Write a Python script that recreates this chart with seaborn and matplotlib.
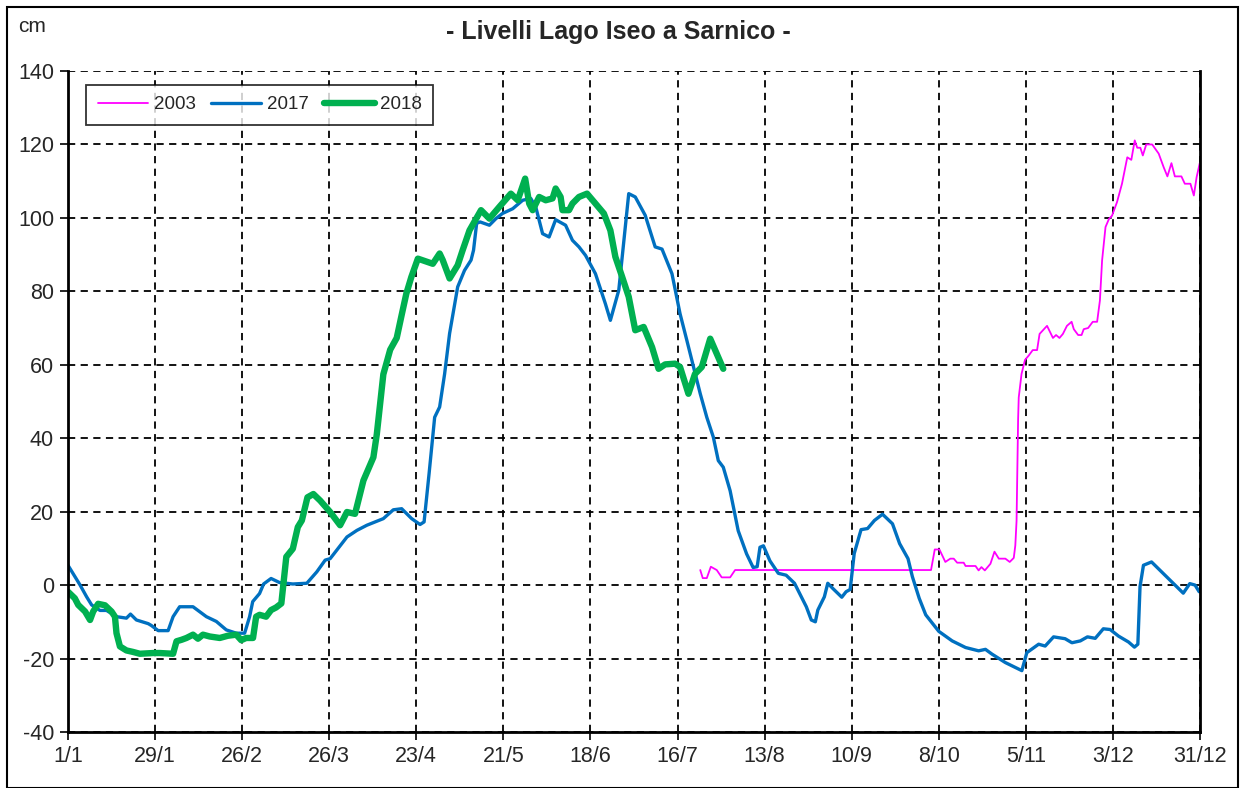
import matplotlib
matplotlib.use("Agg")
import matplotlib.pyplot as plt
from matplotlib.patches import Rectangle
import seaborn as sns

# day of year (0 = 1 Jan) and lake level in cm
days_2003 = [203.3, 204.1, 205.4, 206.7, 208.6, 210.2, 212.9, 214.5, 277.5, 278.7, 280.2,
             282.1, 283.7, 284.8, 285.9, 288.0, 288.6, 291.8, 292.8, 293.7, 294.8, 296.6,
             297.9, 299.3, 301.4, 302.8, 304.1, 304.6, 305.0, 305.5, 305.7, 306.6, 307.7,
             308.9, 310.2, 311.6, 312.4, 314.8, 316.7, 317.7, 318.8, 319.9, 321.2, 322.7,
             323.4, 324.8, 325.9, 326.6, 328.0, 329.5, 330.9, 331.8, 332.5, 333.6, 334.7,
             335.7, 337.3, 338.9, 340.6, 341.9, 343.0, 343.8, 344.8, 345.6, 346.7, 348.6,
             350.7, 352.3, 353.5, 354.8, 355.9, 358.0, 359.1, 360.9, 362.0, 362.9, 363.9]
level_2003 = [4.1, 1.9, 1.9, 5.0, 4.1, 2.1, 2.1, 4.1, 4.1, 9.7, 9.7,
              6.3, 7.2, 7.2, 6.1, 6.1, 5.2, 5.2, 4.0, 4.9, 4.0, 5.8,
              9.1, 7.2, 7.2, 6.3, 7.4, 10.8, 17.5, 45.2, 51.1, 57.5, 61.3,
              62.5, 64.0, 64.0, 68.4, 70.6, 67.3, 68.1, 67.3, 68.4, 70.6, 71.7,
              69.7, 68.1, 68.1, 69.7, 70.0, 71.7, 71.7, 77.5, 88.4, 97.5, 99.7,
              100.6, 104.3, 109.3, 116.5, 115.8, 121.1, 119.1, 119.1, 117.0, 120.0, 120.0,
              117.5, 113.8, 111.3, 114.9, 111.3, 111.3, 109.3, 109.3, 106.1, 111.1, 114.9]

days_2017 = [0.0, 3.9, 6.0, 7.6, 10.3, 12.4, 15.6, 18.8, 20.1, 22.0, 25.8, 26.8, 29.0,
             32.2, 33.8, 35.9, 40.2, 44.5, 47.7, 50.9, 54.1, 56.8, 58.4, 59.4, 61.6,
             62.9, 65.3, 68.0, 72.3, 76.8, 80.0, 82.7, 84.3, 89.7, 92.9, 96.1, 101.4,
             104.6, 107.3, 110.5, 113.2, 114.5, 116.1, 117.9, 119.5, 121.1, 122.7, 125.3,
             127.5, 129.6, 130.4, 131.4, 132.5, 135.5, 137.6, 139.7, 143.0, 146.2, 148.8,
             150.4, 152.6, 154.7, 156.8, 160.0, 162.2, 164.3, 166.4, 169.6, 172.8, 174.4,
             177.1, 180.3, 182.4, 185.6, 188.8, 191.0, 194.2, 196.8, 199.0, 201.7, 203.3,
             205.4, 207.5, 209.1, 210.7, 212.9, 215.5, 218.2, 220.3, 221.6, 222.5, 223.6,
             225.7, 228.4, 230.9, 233.6, 237.4, 239.0, 240.3, 241.1, 243.2, 244.3, 245.9,
             248.8, 250.2, 251.5, 252.8, 255.0, 257.1, 259.3, 261.9, 265.1, 267.4, 270.1,
             271.5, 273.7, 275.8, 280.0, 284.3, 288.6, 292.8, 295.0, 297.1, 301.4, 306.7,
             308.3, 312.1, 314.2, 316.9, 320.6, 322.8, 325.5, 327.8, 330.3, 332.9, 335.1,
             337.8, 341.0, 342.9, 344.0, 344.7, 345.8, 348.4, 352.7, 355.9, 358.6, 360.7,
             362.4, 363.7]
level_2017 = [5.4, 0.0, -3.2, -5.4, -6.9, -6.9, -8.6, -9.0, -7.9, -9.5, -10.5, -11.0, -12.4,
              -12.4, -8.6, -5.9, -5.9, -8.6, -9.9, -12.2, -13.1, -13.1, -8.6, -4.5, -2.3,
              0.3, 1.8, 0.7, 0.3, 0.5, 3.6, 6.8, 7.2, 13.1, 14.9, 16.3, 18.1,
              20.5, 20.8, 18.1, 16.5, 17.2, 30.3, 45.7, 48.5, 57.5, 68.5, 81.2,
              85.7, 88.5, 91.2, 98.5, 98.9, 98.0, 99.8, 101.2, 102.5, 104.8, 105.3,
              103.0, 95.7, 94.8, 99.5, 98.0, 93.9, 92.1, 89.8, 84.8, 76.6, 72.1,
              80.3, 106.6, 105.7, 100.7, 92.1, 91.5, 84.8, 73.9, 66.6, 57.5, 52.1,
              45.7, 40.3, 33.9, 32.1, 25.7, 14.8, 8.5, 4.8, 5.0, 10.3, 10.7,
              6.6, 3.2, 2.7, 0.5, -5.9, -9.5, -10.0, -6.8, -3.2, 0.5, -0.9,
              -3.3, -1.8, -1.2, 8.6, 15.1, 15.4, 17.6, 19.3, 16.7, 11.3, 7.2,
              2.3, -3.6, -8.1, -12.6, -15.2, -17.0, -17.9, -17.5, -18.8, -21.1, -23.3,
              -18.4, -16.1, -16.6, -14.1, -14.6, -15.7, -15.2, -14.1, -14.5, -11.9, -12.1,
              -13.9, -15.5, -16.9, -16.1, -0.4, 5.4, 6.3, 2.7, 0.0, -2.2, 0.4,
              0.0, -1.8]

days_2018 = [0.0, 2.2, 3.3, 5.5, 7.1, 8.1, 9.7, 11.9, 14.0, 15.1, 15.6, 16.7, 18.8,
             20.9, 23.1, 27.4, 29.5, 33.8, 34.9, 36.5, 38.1, 40.2, 41.8, 43.4, 45.6,
             48.8, 51.4, 54.1, 55.7, 57.3, 59.5, 60.5, 61.6, 63.7, 65.3, 66.9, 68.6,
             70.2, 72.3, 73.9, 75.2, 77.0, 78.9, 81.1, 84.3, 87.5, 89.7, 92.3, 95.0,
             98.2, 99.3, 101.4, 103.6, 105.7, 107.3, 108.8, 110.4, 112.5, 117.3, 119.5,
             120.5, 122.7, 125.3, 126.9, 129.1, 132.8, 135.5, 138.7, 142.4, 144.6, 147.0,
             148.3, 149.4, 151.5, 153.6, 155.8, 156.8, 158.4, 159.0, 161.1, 162.2, 164.3,
             166.9, 169.6, 172.3, 174.4, 176.0, 178.2, 180.3, 182.4, 185.1, 187.8, 189.9,
             192.0, 195.2, 196.8, 199.5, 201.6, 203.8, 206.5, 208.6, 210.7]
level_2018 = [-1.8, -3.6, -5.4, -7.2, -9.5, -7.2, -5.1, -5.5, -7.2, -8.6, -13.1, -16.7, -17.8,
              -18.2, -18.7, -18.5, -18.5, -18.7, -15.3, -14.9, -14.4, -13.5, -14.6, -13.5, -14.0,
              -14.4, -13.8, -13.5, -15.0, -14.4, -14.4, -8.6, -8.1, -8.6, -6.8, -6.1, -5.0,
              7.7, 9.9, 15.8, 17.6, 23.9, 24.8, 23.0, 19.9, 16.3, 19.9, 19.4, 28.5,
              34.8, 41.1, 57.4, 64.1, 67.3, 73.6, 79.4, 83.9, 88.9, 87.5, 90.3,
              88.5, 83.5, 87.1, 91.2, 96.6, 102.1, 99.8, 103.0, 106.6, 104.8, 110.7,
              103.9, 102.1, 105.7, 104.8, 105.3, 108.0, 105.7, 102.1, 102.1, 103.9, 105.7,
              106.6, 103.9, 101.2, 96.6, 89.4, 83.9, 78.5, 69.4, 70.3, 64.8, 58.9,
              60.1, 60.3, 59.4, 52.1, 57.5, 59.4, 67.1, 63.0, 58.9]

tick_days = [0, 28, 56, 84, 112, 140, 168, 196, 224, 252, 280, 308, 336, 364]
tick_labels = ["1/1", "29/1", "26/2", "26/3", "23/4", "21/5", "18/6", "16/7",
               "13/8", "10/9", "8/10", "5/11", "3/12", "31/12"]


def main():
    sns.set_style("white")
    plt.rcParams["font.family"] = ["Liberation Sans", "DejaVu Sans"]
    plt.rcParams["axes.unicode_minus"] = False

    fig = plt.figure(figsize=(12.45, 7.88), dpi=100)
    ax = fig.add_axes([0.0546, 0.0711, 0.9093, 0.8388])

    sns.lineplot(x=days_2003, y=level_2003, ax=ax, color="#FF00FF", linewidth=1.3,
                 label="2003", sort=False)
    sns.lineplot(x=days_2017, y=level_2017, ax=ax, color="#0070C0", linewidth=2.4,
                 label="2017", sort=False)
    sns.lineplot(x=days_2018, y=level_2018, ax=ax, color="#00B050", linewidth=4.6,
                 label="2018", sort=False)

    ax.set_xlim(0, 364)
    ax.set_ylim(-40, 140)
    ax.set_xticks(tick_days)
    ax.set_xticklabels(tick_labels)
    ax.set_yticks(range(-40, 141, 20))
    ax.tick_params(axis="both", labelsize=15.5, direction="out", length=6, width=1.2,
                   color="black", bottom=True, left=True, pad=4)

    ax.grid(True, color="black", linestyle=(0, (4, 3)), linewidth=1.3)
    for side in ["left", "bottom", "right"]:
        ax.spines[side].set_visible(True)
        ax.spines[side].set_color("black")
        ax.spines[side].set_linewidth(2)
    ax.spines["top"].set_visible(False)

    leg = ax.legend(loc="upper left", bbox_to_anchor=(0.008, 0.993), ncol=3,
                    fontsize=13.5, handlelength=2.7, handletextpad=0.3,
                    columnspacing=0.8, frameon=True, fancybox=False,
                    borderpad=0.6)
    leg.get_frame().set_edgecolor("black")
    leg.get_frame().set_linewidth(1.3)

    fig.text(0.497, 0.96, "- Livelli Lago Iseo a Sarnico -", ha="center", va="center",
             fontsize=18, fontweight="bold")
    fig.text(0.026, 0.966, "cm", ha="center", va="center", fontsize=15)

    fig.patches.append(Rectangle((0.006, 0.0), 0.988, 0.991, transform=fig.transFigure,
                                 fill=False, edgecolor="black", linewidth=1.5))

    fig.savefig("out.png", dpi=100)


if __name__ == "__main__":
    main()
